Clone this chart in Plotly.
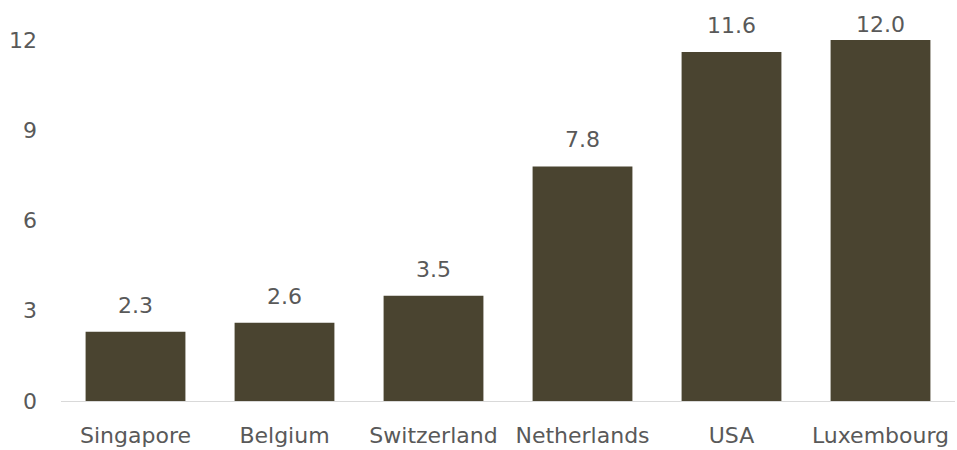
import plotly.graph_objects as go

categories = ["Singapore", "Belgium", "Switzerland", "Netherlands", "USA", "Luxembourg"]
values = [2.3, 2.6, 3.5, 7.8, 11.6, 12.0]
y_ticks = [0, 3, 6, 9, 12]

bar_color = "#4a4430"
text_color = "#595959"
font_family = "DejaVu Sans"
font_size = 22

height = 450
margin_t, margin_b = 10, 47
y_max = 13
plot_h = height - margin_t - margin_b
px_per_unit = plot_h / y_max

fig = go.Figure()
fig.add_trace(go.Bar(
    x=categories, y=values,
    marker=dict(color=bar_color, line=dict(width=0)),
    hoverinfo="skip",
))

# Data labels: sit above the bar, but are kept inside the chart area at the top
label_gap, label_box_h, min_top = 12, 30, 9
for c, v in zip(categories, values):
    bar_top_px = margin_t + (y_max - v) * px_per_unit
    shift = min(label_gap, bar_top_px - min_top - label_box_h)
    fig.add_annotation(
        x=c, y=v, text=f"{v:.1f}", showarrow=False,
        yanchor="bottom", yshift=shift,
        font=dict(family=font_family, size=font_size, color=text_color),
    )

fig.update_layout(
    width=957, height=height,
    margin=dict(l=61, r=2, t=margin_t, b=margin_b),
    paper_bgcolor="white", plot_bgcolor="white",
    bargap=0.33,
    showlegend=False,
    font=dict(family=font_family, size=font_size, color=text_color),
    xaxis=dict(
        showline=True, linecolor="#d9d9d9", linewidth=1,
        showgrid=False, ticks="", ticklabelstandoff=15,
        tickfont=dict(family=font_family, size=font_size, color=text_color),
    ),
    yaxis=dict(
        range=[0, y_max], tickvals=y_ticks, showgrid=False, zeroline=False,
        showline=False, ticks="", ticklabelstandoff=23,
        tickfont=dict(family=font_family, size=font_size, color=text_color),
    ),
)

fig.write_html("out.html")
